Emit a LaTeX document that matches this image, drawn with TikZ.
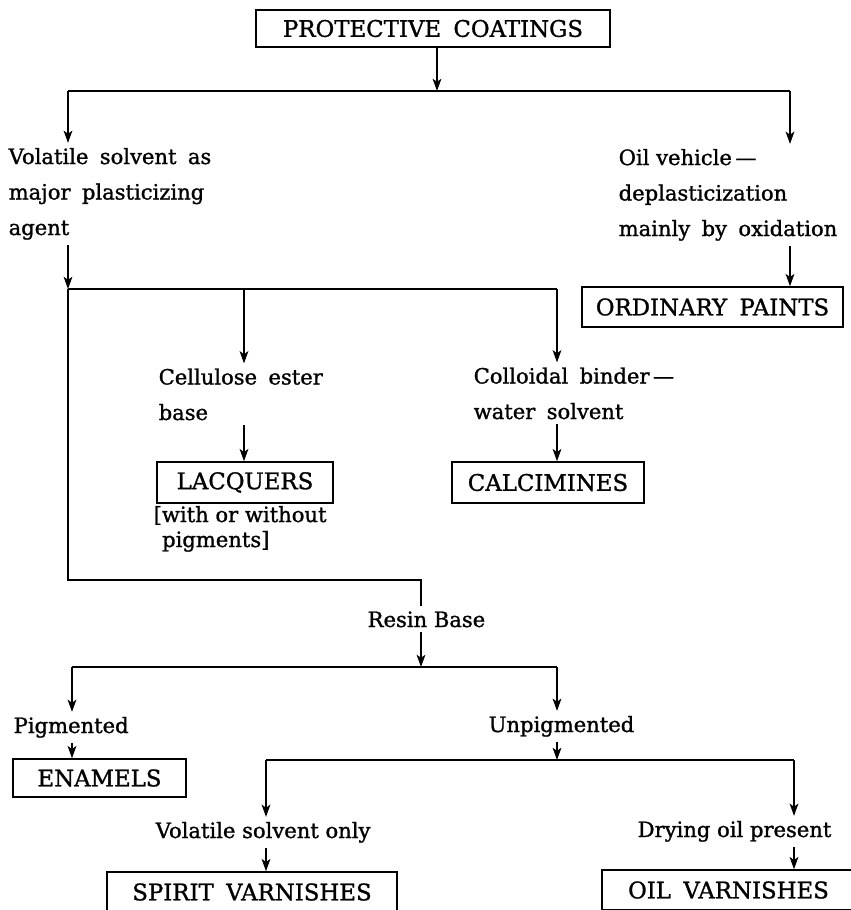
\documentclass[tikz,border=0pt]{standalone}
\usepackage{fontspec}
\setmainfont[WordSpace=1.7,FakeBold=1.2]{DejaVu Serif}
\newfontfamily\plainfont[FakeBold=1.2]{DejaVu Serif}
\usetikzlibrary{arrows.meta}

\begin{document}
\begin{tikzpicture}
		[x=0.02cm, y=-0.02cm,
		line width=0.8pt,
		>={Stealth[length=7pt,width=5pt,inset=1.8pt]},
		class box/.style={draw, line width=0.9pt, inner sep=0pt,
			font=\fontsize{13}{15}\selectfont},
		class text/.style={anchor=base west, inner xsep=0pt, inner ysep=2.5pt, align=left,
			font=\fontsize{12}{20.2}\selectfont},
		plain text/.style={class text, font=\plainfont\fontsize{12}{20.2}\selectfont}]

		\def \px {0.02cm}

		\useasboundingbox (0,0) rectangle (851,910);
		\clip (0,0) rectangle (851,910);

		% boxes
		\node[class box, minimum width=354*\px, minimum height=37*\px] (coat) at (433,28.5) {PROTECTIVE COATINGS};
		\node[class box, minimum width=261*\px, minimum height=40*\px] (paint) at (712.5,307) {ORDINARY PAINTS};
		\node[class box, minimum width=176*\px, minimum height=41*\px] (lacq) at (245,482.5) {LACQUERS};
		\node[class box, minimum width=192*\px, minimum height=41*\px] (calc) at (548,482.5) {CALCIMINES};
		\node[class box, minimum width=173*\px, minimum height=38*\px] (enam) at (99.5,778) {ENAMELS};
		\node[class box, minimum width=290*\px, minimum height=40*\px] (spirit) at (252,892) {SPIRIT VARNISHES};
		\node[class box, minimum width=253*\px, minimum height=40*\px] (oilvar) at (728.5,890) {OIL VARNISHES};

		% texts (base = last line)
		\node[class text] (volat) at (8,235) {Volatile solvent as\\major plasticizing\\agent};
		\node[class text] (oilveh) at (618,236) {{\plainfont Oil vehicle\,—}\\deplasticization\\mainly by oxidation};
		\node[class text] (cell) at (158,420) {Cellulose ester\\base};
		\node[class text] (coll) at (473,419) {Colloidal binder\,—\\water solvent};
		\node[plain text, font=\plainfont\fontsize{12}{14.2}\selectfont] (pigm) at (153,547) {[with or without\\\hspace*{0.4em}pigments]};
		\node[plain text] (resin) at (367,627) {Resin Base};
		\node[plain text] (pigd) at (13,733) {Pigmented};
		\node[plain text] (unpig) at (488,732) {Unpigmented};
		\node[plain text] (volonly) at (155,838) {Volatile solvent only};
		\node[plain text] (drying) at (637,837) {Drying oil present};

		% junctions
		\coordinate (top) at (437,91);
		\coordinate (topL) at (68,91);
		\coordinate (topR) at (790,91);
		\coordinate (midL) at (68,289);
		\coordinate (midC) at (244,289);
		\coordinate (midR) at (557,289);
		\coordinate (lowL) at (68,580);
		\coordinate (lowR) at (421,580);
		\coordinate (res) at (421,667);
		\coordinate (resL) at (72,667);
		\coordinate (resR) at (557,667);
		\coordinate (unL) at (266,760);
		\coordinate (unR) at (794,760);

		% connectors
		\draw[->] (coat.south -| top) -- (top);
		\draw (topL) -- (topR);
		\draw[->] (topL) -- (topL |- volat.north);
		\draw[->] (topR) -- (topR |- oilveh.north);
		\draw[->] (oilveh.south -| topR) -- (paint.north -| topR);

		\draw[->] (volat.south -| midL) -- (midL);
		\draw (midL) -- (midR);
		\draw[->] (midC) -- (midC |- cell.north);
		\draw[->] (midR) -- (midR |- coll.north);
		\draw[->] (cell.south -| midC) -- (lacq.north -| midC);
		\draw[->] (coll.south -| midR) -- (calc.north -| midR);

		\draw (midL) -- (lowL) -- (lowR) -- (lowR |- resin.north);
		\draw[->] (resin.south -| res) -- (res);
		\draw (resL) -- (resR);
		\draw[->] (resL) -- (resL |- pigd.north);
		\draw[->] (resR) -- (resR |- unpig.north);
		\draw[->] (pigd.south -| resL) -- (enam.north -| resL);

		\draw[->] (unpig.south -| resR) -- (resR |- unL);
		\draw (unL) -- (unR);
		\draw[->] (unL) -- (unL |- volonly.north);
		\draw[->] (unR) -- (unR |- drying.north);
		\draw[->] (volonly.south -| unL) -- (spirit.north -| unL);
		\draw[->] (drying.south -| unR) -- (oilvar.north -| unR);

	\end{tikzpicture}
\end{document}
